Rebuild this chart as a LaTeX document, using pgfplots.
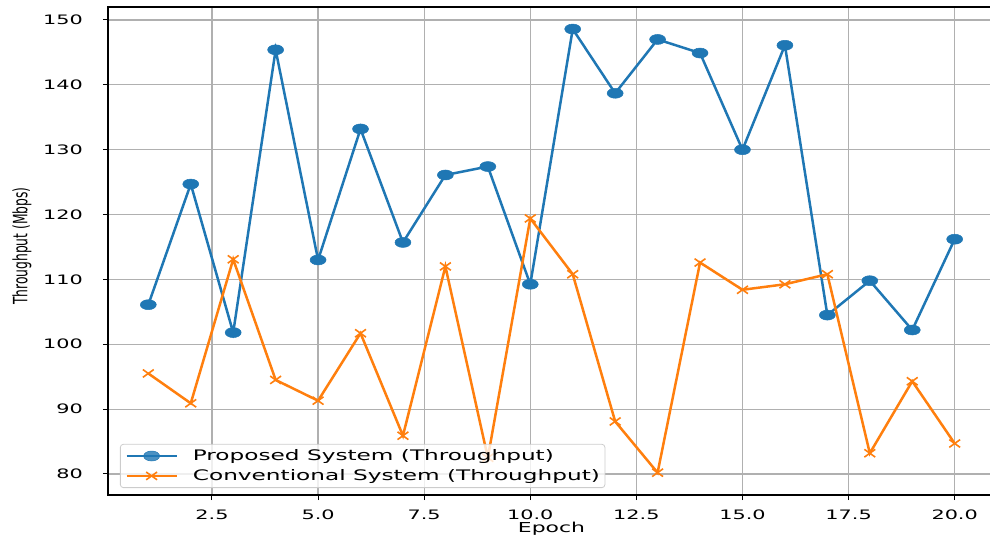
\documentclass[border=0pt]{standalone}
\usepackage{pgfplots}
\pgfplotsset{compat=1.18}
\usepackage{fontspec}
\setmainfont{DejaVu Sans}
\newfontfamily\wideDV{DejaVu Sans}[FakeStretch=1.6]
\newfontfamily\narrowDV{DejaVu Sans}[FakeStretch=0.625]
\newcommand\tickfont{\wideDV\fontsize{13bp}{15bp}\selectfont}
\newcommand\legfont{\wideDV\fontsize{14.5bp}{16bp}\selectfont}
\newcommand\xlabfont{\wideDV\fontsize{13.7bp}{16bp}\selectfont}
\newcommand\ylabfont{\narrowDV\fontsize{19.7bp}{22bp}\selectfont}
\newcommand\titfont{\wideDV\fontsize{18bp}{20bp}\selectfont}
\definecolor{tabblue}{HTML}{1F77B4}
\definecolor{taborange}{HTML}{FF7F0E}
\definecolor{gridgray}{HTML}{B0B0B0}
\begin{document}
\begin{tikzpicture}
\begin{axis}[
  scale only axis,
  width=887bp, height=488bp,
  xmin=0.05, xmax=20.95,
  ymin=76.76, ymax=152.0,
  xtick={2.5,5,7.5,10,12.5,15,17.5,20},
  ytick={80,90,100,110,120,130,140,150},
  xticklabel style={/pgf/number format/fixed, /pgf/number format/fixed zerofill, /pgf/number format/precision=1, /pgf/number format/assume math mode=true, anchor=north, yshift=-10bp},
  yticklabel style={/pgf/number format/assume math mode=true, anchor=east, xshift=-20bp},
  tick label style={font=\tickfont, inner sep=0pt},
  tick pos=left,
  tick align=outside,
  major tick length=5bp,
  every tick/.style={black, line width=1bp},
  grid=major,
  major grid style={gridgray, line width=1.2bp},
  axis line style={black, line width=1.3bp},
  title={Throughput Comparison},
  title style={font=\titfont, at={(axis description cs:0.5,1)}, anchor=base, yshift=6bp, inner sep=0pt},
  xlabel={Epoch},
  xlabel style={font=\xlabfont, at={(axis description cs:0.5,0)}, anchor=north, yshift=-27bp, inner sep=0pt},
  ylabel={Throughput (Mbps)},
  ylabel style={font=\ylabfont, at={(axis description cs:-0.097,0.51)}, anchor=center, inner sep=0pt},
  legend cell align=left,
  legend image code/.code={\draw[mark repeat=2, mark phase=2, #1] plot coordinates {(0bp,0bp) (25bp,0bp) (50bp,0bp)};},
  legend style={at={(axis description cs:0.0135,0.0143)}, anchor=south west,
    draw=black!20, line width=0.8bp, rounded corners=3bp, fill=white, fill opacity=0.8, text opacity=1, draw opacity=1,
    font=\legfont, inner xsep=5bp, inner ysep=5bp, row sep=6.5bp, column sep=0bp,
    nodes={inner sep=0pt, text depth=0.24em},
    /tikz/every odd column/.append style={column sep=15bp}},
]
\addplot[tabblue, line width=2.5bp, mark=*, mark size=5bp, mark options={solid, xscale=1.6, fill=tabblue, draw=tabblue, line width=0.5bp}] coordinates {
(1,106.1) (2,124.7) (3,101.8) (4,145.4) (5,113.0) (6,133.2) (7,115.7) (8,126.1) (9,127.4) (10,109.25)
(11,148.6) (12,138.7) (13,147.0) (14,144.9) (15,130.0) (16,146.1) (17,104.5) (18,109.8) (19,102.2) (20,116.2)
};
\addlegendentry{Proposed System (Throughput)}
\addplot[taborange, line width=2.5bp, mark=x, mark size=5.5bp, mark options={solid, xscale=1.4, line width=1.6bp}] coordinates {
(1,95.5) (2,90.9) (3,113.1) (4,94.5) (5,91.3) (6,101.7) (7,85.9) (8,112.0) (9,82.5) (10,119.4)
(11,110.8) (12,88.1) (13,80.2) (14,112.6) (15,108.4) (16,109.25) (17,110.8) (18,83.2) (19,94.3) (20,84.7)
};
\addlegendentry{Conventional System (Throughput)}
\end{axis}
\pgfresetboundingbox
\path[use as bounding box] ([xshift=-108bp,yshift=-43bp]current axis.south west) rectangle ([xshift=882bp,yshift=495bp]current axis.south west);
\end{tikzpicture}
\end{document}
